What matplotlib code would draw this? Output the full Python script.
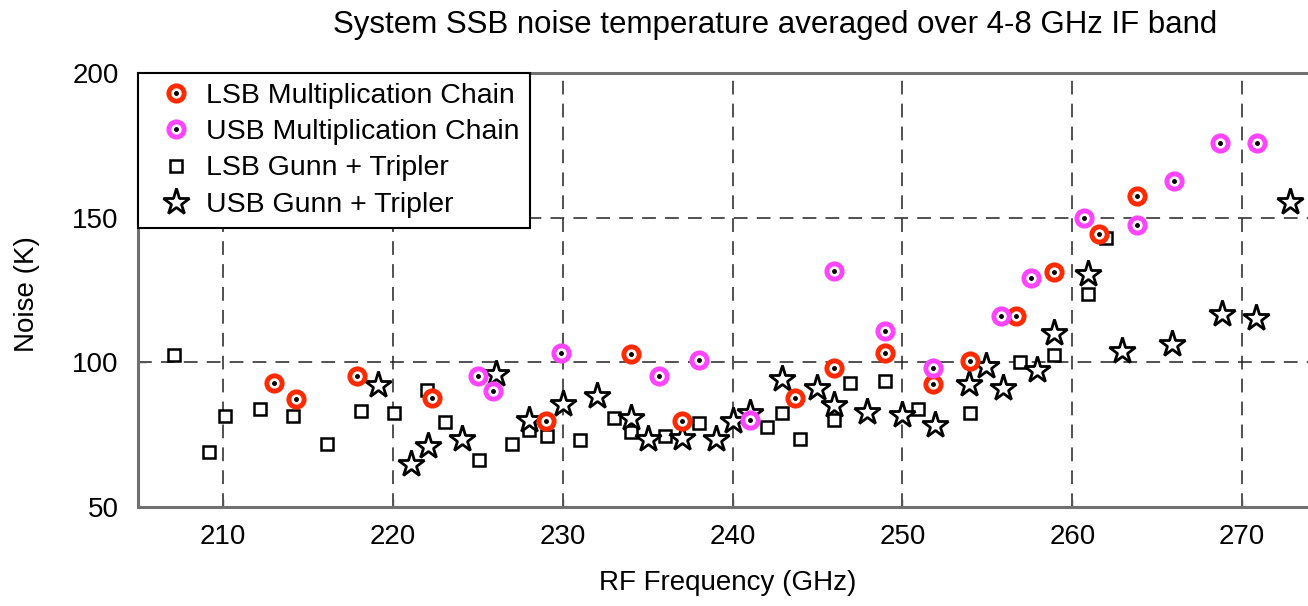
import matplotlib.pyplot as plt
from matplotlib.legend_handler import HandlerTuple

plt.rcParams['font.family'] = ['Liberation Sans', 'DejaVu Sans']

# Dati
lsb_chain_f = [213.0, 214.3, 217.9, 222.3, 229.0, 234.0, 237.0, 243.7, 246.0, 249.0,
               251.8, 254.0, 256.7, 258.9, 261.6, 263.8]
lsb_chain_t = [92.7, 87.3, 95.3, 87.6, 79.8, 103.0, 79.8, 87.6, 98.0, 103.2,
               92.5, 100.3, 116.1, 131.3, 144.4, 157.4]

usb_chain_f = [225.0, 225.9, 229.9, 235.7, 238.0, 241.0, 246.0, 249.0, 251.8, 255.8,
               257.6, 260.7, 263.8, 266.0, 268.7, 270.9]
usb_chain_t = [95.3, 90.2, 103.2, 95.3, 100.7, 79.9, 131.5, 111.0, 98.0, 116.1,
               129.0, 149.8, 147.3, 162.7, 175.7, 175.7]

lsb_gunn_f = [207.1, 209.2, 210.1, 212.2, 214.1, 216.1, 218.1, 220.1, 222.0, 223.1,
              225.1, 227.0, 228.0, 229.1, 231.0, 233.0, 234.0, 236.0, 238.0, 242.0,
              242.9, 244.0, 246.0, 246.9, 249.0, 250.9, 254.0, 256.9, 258.9, 260.9,
              262.0]
lsb_gunn_t = [102.6, 69.1, 81.5, 83.8, 81.3, 71.8, 83.3, 82.6, 90.4, 79.3,
              66.1, 71.8, 76.6, 74.4, 73.1, 80.7, 75.9, 74.4, 79.0, 77.8,
              82.6, 73.5, 80.1, 92.7, 93.6, 83.8, 82.4, 100.1, 102.6, 123.5,
              142.9]

usb_gunn_f = [219.1, 221.1, 222.1, 224.1, 226.1, 228.0, 230.0, 232.0, 234.0, 235.0,
              237.0, 239.0, 240.0, 241.0, 242.9, 245.0, 246.0, 247.9, 250.0, 251.9,
              253.9, 254.9, 255.9, 257.9, 258.9, 260.9, 262.9, 265.9, 268.8, 270.8,
              272.8]
usb_gunn_t = [92.1, 64.7, 71.2, 73.5, 95.8, 80.1, 85.6, 88.5, 80.7, 73.6,
              73.9, 73.6, 79.6, 82.5, 94.2, 91.3, 85.3, 83.0, 81.8, 78.4,
              92.5, 98.6, 91.3, 97.3, 110.0, 130.6, 103.9, 106.4, 116.7, 115.3,
              155.5]

red = '#ff2a00'
magenta = '#ff44ff'

fig = plt.figure(figsize=(13.08, 6.06), dpi=100)
# l'asse continua oltre il bordo destro, come nell'originale ritagliato
ax = fig.add_axes([138 / 1308, 1 - 507 / 606, 1274 / 1308, 434 / 606])

sq, = ax.plot(lsb_gunn_f, lsb_gunn_t, 's', ms=8.5, mfc='white', mec='black', mew=1.8,
              linestyle='none', zorder=3)
st, = ax.plot(usb_gunn_f, usb_gunn_t, '*', ms=20, mfc='white', mec='black', mew=2,
              linestyle='none', zorder=3)
r1, = ax.plot(lsb_chain_f, lsb_chain_t, 'o', ms=11, mfc='white', mec=red, mew=3.5,
              linestyle='none', zorder=4)
r2, = ax.plot(lsb_chain_f, lsb_chain_t, '.', ms=5, color='black', linestyle='none', zorder=4)
m1, = ax.plot(usb_chain_f, usb_chain_t, 'o', ms=11, mfc='white', mec=magenta, mew=3.5,
              linestyle='none', zorder=5)
m2, = ax.plot(usb_chain_f, usb_chain_t, '.', ms=5, color='black', linestyle='none', zorder=5)

ax.set_xlim(205, 280)
ax.set_ylim(50, 200)
ax.set_xticks(range(210, 280, 10))
ax.set_yticks([50, 100, 150, 200])
ax.grid(True, color='#222222', linestyle=(0, (9, 6)), linewidth=1.1)
ax.tick_params(direction='in', length=6, width=1, labelsize=20, color='#555555')
ax.tick_params(axis='x', pad=12)
ax.tick_params(axis='y', pad=14)
for s in ax.spines.values():
    s.set_color('#707070')
    s.set_linewidth(2.2)

ax.set_title('System SSB noise temperature averaged over 4-8 GHz IF band',
             fontsize=22.5, pad=29)
ax.set_xlabel('RF Frequency (GHz)', fontsize=20)
ax.xaxis.set_label_coords((728 - 138) / 1274, -0.145)
ax.set_ylabel('Noise (K)', fontsize=20)
ax.yaxis.set_label_coords(-0.077, 0.49)

leg = ax.legend([(r1, r2), (m1, m2), sq, st],
                ['LSB Multiplication Chain', 'USB Multiplication Chain',
                 'LSB Gunn + Tripler', 'USB Gunn + Tripler'],
                handler_map={tuple: HandlerTuple(ndivide=1, pad=0)},
                loc='upper left', borderaxespad=0, fancybox=False, framealpha=1,
                edgecolor='black', fontsize=20.5, handlelength=2.0, handletextpad=0.05,
                labelspacing=0.36, borderpad=0.35)
leg.get_frame().set_linewidth(1.5)
leg.set_zorder(10)

fig.savefig('out.png', dpi=100)
